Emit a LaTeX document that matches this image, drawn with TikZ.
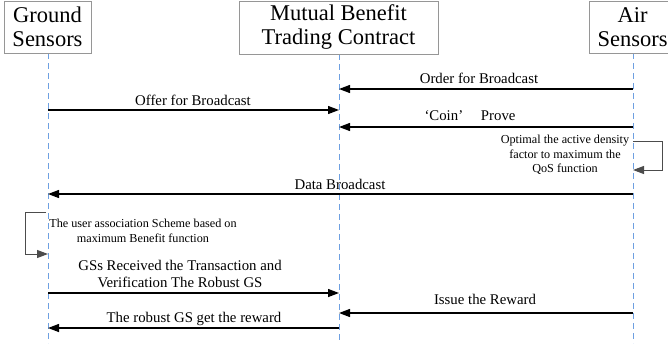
\documentclass[tikz,border=0pt]{standalone}
\usepackage{fontspec}
\setmainfont{Liberation Serif}
\usetikzlibrary{arrows.meta}
\definecolor{lifeblue}{RGB}{110,160,225}
\definecolor{boxgray}{RGB}{150,150,150}
\tikzset{
  actor/.style={draw=boxgray, line width=0.8pt, fill=white, align=center, font=\fontsize{22.5}{24}\selectfont, inner sep=0pt},
  lifeline/.style={draw=lifeblue, line width=1pt, dash pattern=on 6pt off 4pt},
  msg/.style={draw=black, line width=1.3pt, -{Triangle[length=11pt,width=8pt]}},
  loopmsg/.style={draw=black!70, line width=1pt, -{Triangle[length=11pt,width=8pt]}},
  lbl/.style={font=\fontsize{14.8}{17}\selectfont, align=center, inner sep=0pt},
  small/.style={font=\fontsize{12.2}{14.5}\selectfont, align=center, inner sep=0pt}
}
\begin{document}
\begin{tikzpicture}[x=1pt,y=-1pt]
\useasboundingbox (0,0) rectangle (668,343);
% lifelines
\coordinate (gtop) at (48,53); \coordinate (gbot) at (48,343);
\coordinate (mtop) at (339,54); \coordinate (mbot) at (339,343);
\coordinate (atop) at (633,53); \coordinate (abot) at (633,343);
\draw[lifeline] (gtop) -- (gbot);
\draw[lifeline] (mtop) -- (mbot);
\draw[lifeline] (atop) -- (abot);
% actor boxes
\node[actor, minimum width=87pt, minimum height=52pt] (G) at (47.5,27) {Ground\\Sensors};
\node[actor, minimum width=199pt, minimum height=53pt] (M) at (338.5,27.5) {Mutual Benefit\\Trading Contract};
\node[actor, minimum width=87pt, minimum height=52pt, text width=87pt] (A) at (632.5,27) {Air\\Sensors};
% message anchors
\coordinate (a1) at (633,89);  \coordinate (m1) at (339,89);
\coordinate (g2) at (48,110);  \coordinate (m2) at (339,110);
\coordinate (a3) at (633,127); \coordinate (m3) at (339,127);
\coordinate (a4) at (633,194); \coordinate (g4) at (48,194);
\coordinate (g5) at (48,293);  \coordinate (m5) at (339,293);
\coordinate (a6) at (633,313); \coordinate (m6) at (339,313);
\coordinate (m7) at (339,328); \coordinate (g7) at (48,328);
% messages
\draw[msg] (a1) -- (m1);
\node[lbl] (t1) at (479,78) {Order for Broadcast};
\draw[msg] (g2) -- (m2);
\node[lbl] (t2) at (193,100) {Offer for Broadcast};
\draw[msg] (a3) -- (m3);
\node[lbl] (t3) at (470,116) {‘Coin’\hspace{1.2em}Prove};
% self loop on air sensors
\coordinate (l1s) at (633,141); \coordinate (l1e) at (633,170);
\draw[loopmsg] (l1s) -- ++(29,0) |- (l1e);
\node[small] (t4) at (565,155) {Optimal the active density\\factor to maximum the\\QoS function};
\draw[msg] (a4) -- (g4);
\node[lbl] (t5) at (340,184) {Data Broadcast};
% self loop on ground sensors
\coordinate (l2s) at (46,212); \coordinate (l2e) at (48,254);
\draw[loopmsg] (l2s) -- ++(-21,0) |- (l2e);
\node[small] (t6) at (143,231) {The user association Scheme based on\\maximum Benefit function};
\draw[msg] (g5) -- (m5);
\node[lbl] (t7) at (180,274) {GSs Received the Transaction and\\Verification The Robust GS};
\draw[msg] (a6) -- (m6);
\node[lbl] (t8) at (485,299) {Issue the Reward};
\draw[msg] (m7) -- (g7);
\node[lbl] (t9) at (194,319) {The robust GS get the reward};
\end{tikzpicture}
\end{document}
